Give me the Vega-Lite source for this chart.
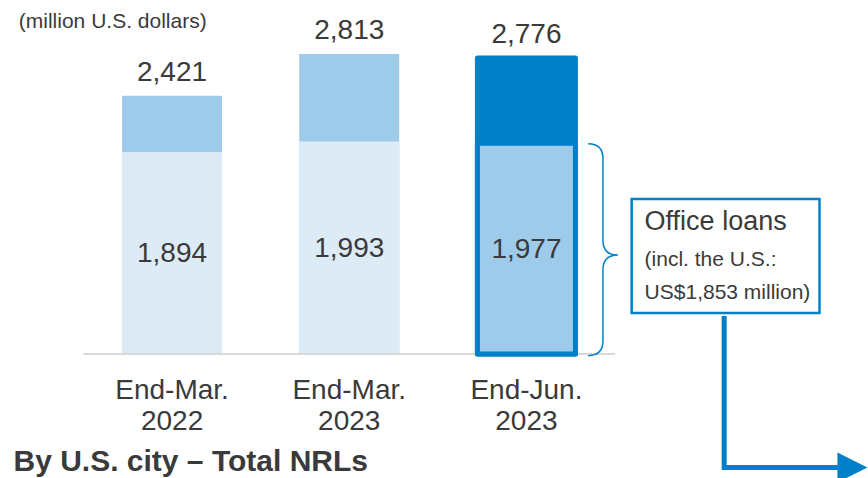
{
  "$schema": "https://vega.github.io/schema/vega-lite/v6.json",
  "width": 868,
  "height": 478,
  "autosize": {"type": "none"},
  "padding": 0,
  "background": "white",
  "config": {
    "view": {"stroke": null},
    "text": {"font": "Liberation Sans", "color": "#3a3a3a"}
  },
  "resolve": {"scale": {"y": "independent"}},
  "datasets": {
    "periods": [
      {"period": "End-Mar. 2022", "slot": 1, "total": 2421, "office": 1894, "latest": false},
      {"period": "End-Mar. 2023", "slot": 2, "total": 2813, "office": 1993, "latest": false},
      {"period": "End-Jun. 2023", "slot": 3, "total": 2776, "office": 1977, "latest": true}
    ]
  },
  "layer": [
    {
      "data": {"name": "periods"},
      "transform": [{"filter": "!datum.latest"}],
      "mark": {"type": "bar", "size": 100, "color": "#9FCBEB"},
      "encoding": {
        "x": {"field": "slot", "type": "quantitative", "scale": {"domain": [0.0572, 4.8996], "nice": false, "zero": false}, "axis": null},
        "y": {"field": "total", "type": "quantitative", "scale": {"domain": [-1162.7, 3319.3], "nice": false, "zero": false}, "axis": null},
        "y2": {"datum": 0}
      }
    },
    {
      "data": {"name": "periods"},
      "transform": [{"filter": "!datum.latest"}],
      "mark": {"type": "bar", "size": 100, "color": "#DDEBF7"},
      "encoding": {
        "x": {"field": "slot", "type": "quantitative", "scale": {"domain": [0.0572, 4.8996], "nice": false, "zero": false}, "axis": null},
        "y": {"field": "office", "type": "quantitative", "scale": {"domain": [-1162.7, 3319.3], "nice": false, "zero": false}, "axis": null},
        "y2": {"datum": 0}
      }
    },
    {
      "data": {"values": [{"from": 0.5, "to": 3.5, "level": 0}]},
      "mark": {"type": "rule", "color": "#D9D9D9", "strokeWidth": 2},
      "encoding": {
        "x": {"field": "from", "type": "quantitative", "scale": {"domain": [0.0572, 4.8996], "nice": false, "zero": false}, "axis": null},
        "x2": {"field": "to"},
        "y": {"field": "level", "type": "quantitative", "scale": {"domain": [-1162.7, 3319.3], "nice": false, "zero": false}, "axis": null}
      }
    },
    {
      "data": {"name": "periods"},
      "transform": [{"filter": "datum.latest"}],
      "mark": {"type": "bar", "size": 98, "fill": "#0080C8", "stroke": "#0080C8", "strokeWidth": 5, "strokeJoin": "round"},
      "encoding": {
        "x": {"field": "slot", "type": "quantitative", "scale": {"domain": [0.0572, 4.8996], "nice": false, "zero": false}, "axis": null},
        "y": {"field": "total", "type": "quantitative", "scale": {"domain": [-1162.7, 3319.3], "nice": false, "zero": false}, "axis": null},
        "y2": {"datum": 0}
      }
    },
    {
      "data": {"name": "periods"},
      "transform": [{"filter": "datum.latest"}],
      "mark": {"type": "bar", "size": 98, "fill": "#9FCBEB", "stroke": "#0080C8", "strokeWidth": 5, "strokeJoin": "round"},
      "encoding": {
        "x": {"field": "slot", "type": "quantitative", "scale": {"domain": [0.0572, 4.8996], "nice": false, "zero": false}, "axis": null},
        "y": {"field": "office", "type": "quantitative", "scale": {"domain": [-1162.7, 3319.3], "nice": false, "zero": false}, "axis": null},
        "y2": {"datum": 0}
      }
    },
    {
      "data": {"name": "periods"},
      "mark": {"type": "text", "fontSize": 28, "baseline": "middle", "dy": -23},
      "encoding": {
        "x": {"field": "slot", "type": "quantitative", "scale": {"domain": [0.0572, 4.8996], "nice": false, "zero": false}, "axis": null},
        "y": {"field": "total", "type": "quantitative", "scale": {"domain": [-1162.7, 3319.3], "nice": false, "zero": false}, "axis": null},
        "text": {"field": "total", "type": "quantitative", "format": ","}
      }
    },
    {
      "data": {"name": "periods"},
      "mark": {"type": "text", "fontSize": 28, "baseline": "middle", "dy": 1},
      "encoding": {
        "x": {"field": "slot", "type": "quantitative", "scale": {"domain": [0.0572, 4.8996], "nice": false, "zero": false}, "axis": null},
        "y": {"field": "office", "type": "quantitative", "scale": {"domain": [-2325.4, 6638.6], "nice": false, "zero": false}, "axis": null},
        "text": {"field": "office", "type": "quantitative", "format": ","}
      }
    },
    {
      "data": {"name": "periods"},
      "mark": {"type": "text", "fontSize": 28, "baseline": "middle", "dy": 37.5, "lineBreak": " ", "lineHeight": 31},
      "encoding": {
        "x": {"field": "slot", "type": "quantitative", "scale": {"domain": [0.0572, 4.8996], "nice": false, "zero": false}, "axis": null},
        "y": {"datum": 0, "type": "quantitative", "scale": {"domain": [-1162.7, 3319.3], "nice": false, "zero": false}, "axis": null},
        "text": {"field": "period"}
      }
    },
    {
      "data": {"values": [{"slot": 3.432, "value": 988}]},
      "mark": {"type": "point", "shape": "M -0.14 -0.99 Q 0 -0.99 0 -0.85 L 0 -0.08 Q 0 0.06 0.14 0.06 Q 0 0.06 0 0.2 L 0 0.87 Q 0 1.01 -0.14 1.01", "size": 44944, "filled": false, "stroke": "#0080C8", "strokeWidth": 1.5, "opacity": 1},
      "encoding": {
        "x": {"field": "slot", "type": "quantitative", "scale": {"domain": [0.0572, 4.8996], "nice": false, "zero": false}, "axis": null},
        "y": {"field": "value", "type": "quantitative", "scale": {"domain": [-1162.7, 3319.3], "nice": false, "zero": false}, "axis": null}
      }
    },
    {
      "data": {"values": [{"left": 3.594, "right": 4.654, "top": 1453, "bottom": 384}]},
      "mark": {"type": "rect", "fill": "white", "stroke": "#0080C8", "strokeWidth": 2.5},
      "encoding": {
        "x": {"field": "left", "type": "quantitative", "scale": {"domain": [0.0572, 4.8996], "nice": false, "zero": false}, "axis": null},
        "x2": {"field": "right"},
        "y": {"field": "top", "type": "quantitative", "scale": {"domain": [-1162.7, 3319.3], "nice": false, "zero": false}, "axis": null},
        "y2": {"field": "bottom"}
      }
    },
    {
      "data": {"values": [{"slot": 3.667, "value": 1238, "note": "Office loans"}]},
      "mark": {"type": "text", "align": "left", "baseline": "middle", "fontSize": 27},
      "encoding": {
        "x": {"field": "slot", "type": "quantitative", "scale": {"domain": [0.0572, 4.8996], "nice": false, "zero": false}, "axis": null},
        "y": {"field": "value", "type": "quantitative", "scale": {"domain": [-1162.7, 3319.3], "nice": false, "zero": false}, "axis": null},
        "text": {"field": "note"}
      }
    },
    {
      "data": {"values": [
        {"slot": 3.667, "value": 881, "note": "(incl. the U.S.:"},
        {"slot": 3.667, "value": 572, "note": "US$1,853 million)"}
      ]},
      "mark": {"type": "text", "align": "left", "baseline": "middle", "fontSize": 21},
      "encoding": {
        "x": {"field": "slot", "type": "quantitative", "scale": {"domain": [0.0572, 4.8996], "nice": false, "zero": false}, "axis": null},
        "y": {"field": "value", "type": "quantitative", "scale": {"domain": [-1162.7, 3319.3], "nice": false, "zero": false}, "axis": null},
        "text": {"field": "note"}
      }
    },
    {
      "data": {"values": [
        {"slot": 4.116, "value": 356, "seq": 1},
        {"slot": 4.116, "value": -1064, "seq": 2},
        {"slot": 4.76, "value": -1064, "seq": 3}
      ]},
      "mark": {"type": "line", "color": "#0080C8", "strokeWidth": 5, "strokeJoin": "miter", "strokeCap": "butt"},
      "encoding": {
        "x": {"field": "slot", "type": "quantitative", "scale": {"domain": [0.0572, 4.8996], "nice": false, "zero": false}, "axis": null},
        "y": {"field": "value", "type": "quantitative", "scale": {"domain": [-1162.7, 3319.3], "nice": false, "zero": false}, "axis": null},
        "order": {"field": "seq", "type": "quantitative"}
      }
    },
    {
      "data": {"values": [{"slot": 4.84, "value": -1064}]},
      "mark": {"type": "point", "shape": "M -1 -1 L 1 0 L -1 1 Z", "size": 900, "filled": true, "color": "#0080C8", "opacity": 1},
      "encoding": {
        "x": {"field": "slot", "type": "quantitative", "scale": {"domain": [0.0572, 4.8996], "nice": false, "zero": false}, "axis": null},
        "y": {"field": "value", "type": "quantitative", "scale": {"domain": [-1162.7, 3319.3], "nice": false, "zero": false}, "axis": null}
      }
    },
    {
      "data": {"values": [{"slot": 0.135, "value": 3113, "caption": "(million U.S. dollars)"}]},
      "mark": {"type": "text", "align": "left", "baseline": "middle", "fontSize": 21},
      "encoding": {
        "x": {"field": "slot", "type": "quantitative", "scale": {"domain": [0.0572, 4.8996], "nice": false, "zero": false}, "axis": null},
        "y": {"field": "value", "type": "quantitative", "scale": {"domain": [-1162.7, 3319.3], "nice": false, "zero": false}, "axis": null},
        "text": {"field": "caption"}
      }
    },
    {
      "data": {"values": [{"slot": 0.105, "value": -1013, "caption": "By U.S. city – Total NRLs"}]},
      "mark": {"type": "text", "align": "left", "baseline": "middle", "fontSize": 30, "fontWeight": "bold"},
      "encoding": {
        "x": {"field": "slot", "type": "quantitative", "scale": {"domain": [0.0572, 4.8996], "nice": false, "zero": false}, "axis": null},
        "y": {"field": "value", "type": "quantitative", "scale": {"domain": [-1162.7, 3319.3], "nice": false, "zero": false}, "axis": null},
        "text": {"field": "caption"}
      }
    }
  ]
}
